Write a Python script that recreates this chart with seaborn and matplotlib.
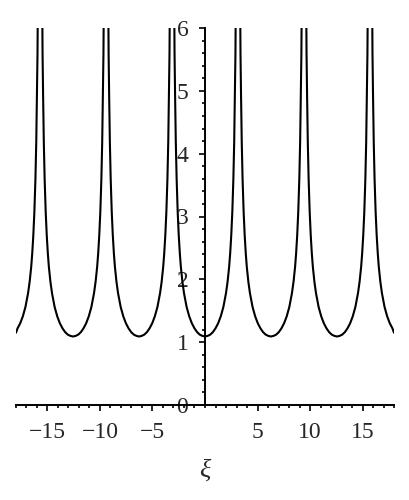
import numpy as np
import pandas as pd
import seaborn as sns
import matplotlib.pyplot as plt
from matplotlib.ticker import MultipleLocator

# curve, arch by arch (values above 6 are clipped)
xi = [
    -18.0, -17.85, -17.6, -17.35, -17.1, -16.85, -16.7, -16.55, -16.45, -16.35,
    -16.25, -16.15, -16.07, -16.0, -15.95, -15.9, -15.85,
    # arch at -4pi
    -15.57, -15.52, -15.47, -15.42, -15.35, -15.27, -15.17, -15.07, -14.97, -14.87,
    -14.72, -14.57, -14.32, -14.07, -13.82, -13.57, -13.32, -13.07, -12.82, -12.57,
    -12.32, -12.07, -11.82, -11.57, -11.32, -11.07, -10.82, -10.57, -10.42, -10.27,
    -10.17, -10.07, -9.97, -9.87, -9.79, -9.72, -9.67, -9.62, -9.57,
    # arch at -2pi
    -9.28, -9.23, -9.18, -9.13, -9.06, -8.98, -8.88, -8.78, -8.68, -8.58,
    -8.43, -8.28, -8.03, -7.78, -7.53, -7.28, -7.03, -6.78, -6.53, -6.28,
    -6.03, -5.78, -5.53, -5.28, -5.03, -4.78, -4.53, -4.28, -4.13, -3.98,
    -3.88, -3.78, -3.68, -3.58, -3.50, -3.43, -3.38, -3.33, -3.28,
    # arch at 0
    -3.0, -2.95, -2.9, -2.85, -2.78, -2.7, -2.6, -2.5, -2.4, -2.3,
    -2.15, -2.0, -1.75, -1.5, -1.25, -1.0, -0.75, -0.5, -0.25, 0.0,
    0.25, 0.5, 0.75, 1.0, 1.25, 1.5, 1.75, 2.0, 2.15, 2.3,
    2.4, 2.5, 2.6, 2.7, 2.78, 2.85, 2.9, 2.95, 3.0,
    # arch at 2pi
    3.28, 3.33, 3.38, 3.43, 3.50, 3.58, 3.68, 3.78, 3.88, 3.98,
    4.13, 4.28, 4.53, 4.78, 5.03, 5.28, 5.53, 5.78, 6.03, 6.28,
    6.53, 6.78, 7.03, 7.28, 7.53, 7.78, 8.03, 8.28, 8.43, 8.58,
    8.68, 8.78, 8.88, 8.98, 9.06, 9.13, 9.18, 9.23, 9.28,
    # arch at 4pi
    9.57, 9.62, 9.67, 9.72, 9.79, 9.87, 9.97, 10.07, 10.17, 10.27,
    10.42, 10.57, 10.82, 11.07, 11.32, 11.57, 11.82, 12.07, 12.32, 12.57,
    12.82, 13.07, 13.32, 13.57, 13.82, 14.07, 14.32, 14.57, 14.72, 14.87,
    14.97, 15.07, 15.17, 15.27, 15.35, 15.42, 15.47, 15.52, 15.57,
    15.85, 15.9, 15.95, 16.0, 16.07, 16.15, 16.25, 16.35, 16.45, 16.55,
    16.7, 16.85, 17.1, 17.35, 17.6, 17.85, 18.0,
]
h = [
    1.15, 1.22, 1.30, 1.41, 1.56, 1.78, 1.96, 2.20, 2.42, 2.70,
    3.07, 3.59, 4.18, 4.95, 5.60, 6.86, 8.68,
    8.68, 6.86, 5.60, 4.95, 4.18, 3.59, 3.07, 2.70, 2.42, 2.20,
    1.96, 1.78, 1.56, 1.41, 1.30, 1.22, 1.16, 1.12, 1.10, 1.09,
    1.10, 1.12, 1.16, 1.22, 1.30, 1.41, 1.56, 1.78, 1.96, 2.20,
    2.42, 2.70, 3.07, 3.59, 4.18, 4.95, 5.60, 6.86, 8.68,
    8.68, 6.86, 5.60, 4.95, 4.18, 3.59, 3.07, 2.70, 2.42, 2.20,
    1.96, 1.78, 1.56, 1.41, 1.30, 1.22, 1.16, 1.12, 1.10, 1.09,
    1.10, 1.12, 1.16, 1.22, 1.30, 1.41, 1.56, 1.78, 1.96, 2.20,
    2.42, 2.70, 3.07, 3.59, 4.18, 4.95, 5.60, 6.86, 8.68,
    8.68, 6.86, 5.60, 4.95, 4.18, 3.59, 3.07, 2.70, 2.42, 2.20,
    1.96, 1.78, 1.56, 1.41, 1.30, 1.22, 1.16, 1.12, 1.10, 1.09,
    1.10, 1.12, 1.16, 1.22, 1.30, 1.41, 1.56, 1.78, 1.96, 2.20,
    2.42, 2.70, 3.07, 3.59, 4.18, 4.95, 5.60, 6.86, 8.68,
    8.68, 6.86, 5.60, 4.95, 4.18, 3.59, 3.07, 2.70, 2.42, 2.20,
    1.96, 1.78, 1.56, 1.41, 1.30, 1.22, 1.16, 1.12, 1.10, 1.09,
    1.10, 1.12, 1.16, 1.22, 1.30, 1.41, 1.56, 1.78, 1.96, 2.20,
    2.42, 2.70, 3.07, 3.59, 4.18, 4.95, 5.60, 6.86, 8.68,
    8.68, 6.86, 5.60, 4.95, 4.18, 3.59, 3.07, 2.70, 2.42, 2.20,
    1.96, 1.78, 1.56, 1.41, 1.30, 1.22, 1.16, 1.12, 1.10, 1.09,
    1.10, 1.12, 1.16, 1.22, 1.30, 1.41, 1.56, 1.78, 1.96, 2.20,
    2.42, 2.70, 3.07, 3.59, 4.18, 4.95, 5.60, 6.86, 8.68,
    8.68, 6.86, 5.60, 4.95, 4.18, 3.59, 3.07, 2.70, 2.42, 2.20,
    1.96, 1.78, 1.56, 1.41, 1.30, 1.22, 1.15,
]
x_ticks = [-15, -10, -5, 5, 10, 15]
y_ticks = [0, 1, 2, 3, 4, 5, 6]

df = pd.DataFrame({"xi": xi, "h": h})

sns.set_style("white")
plt.rcParams["font.family"] = ["Liberation Serif", "DejaVu Serif"]

fig = plt.figure(figsize=(4.1, 5.0), dpi=100)
ax = fig.add_axes([0.039, 0.19, 0.922, 0.754])

sns.lineplot(data=df, x="xi", y="h", sort=False, estimator=None,
             color="black", linewidth=1.5, ax=ax)

ax.set_xlim(-18, 18)
ax.set_ylim(0, 6)
ax.spines["top"].set_visible(False)
ax.spines["right"].set_visible(False)
ax.spines["left"].set_position(("data", 0))
for s in ["left", "bottom"]:
    ax.spines[s].set_color("black")
    ax.spines[s].set_linewidth(1.4)

ax.set_xticks(x_ticks)
ax.set_yticks(y_ticks)
ax.xaxis.set_minor_locator(MultipleLocator(1))
ax.yaxis.set_minor_locator(MultipleLocator(0.2))
ax.tick_params(which="both", direction="out", color="black", width=1.2,
               bottom=True, left=True)
ax.tick_params(which="major", length=4, labelsize=17, pad=8)
ax.tick_params(which="minor", length=2.5)
ax.tick_params(axis="y", pad=8)

ax.set_xlabel("ξ", fontsize=19, fontstyle="italic", labelpad=12)
ax.set_ylabel("")

fig.savefig("out.png", dpi=100)
